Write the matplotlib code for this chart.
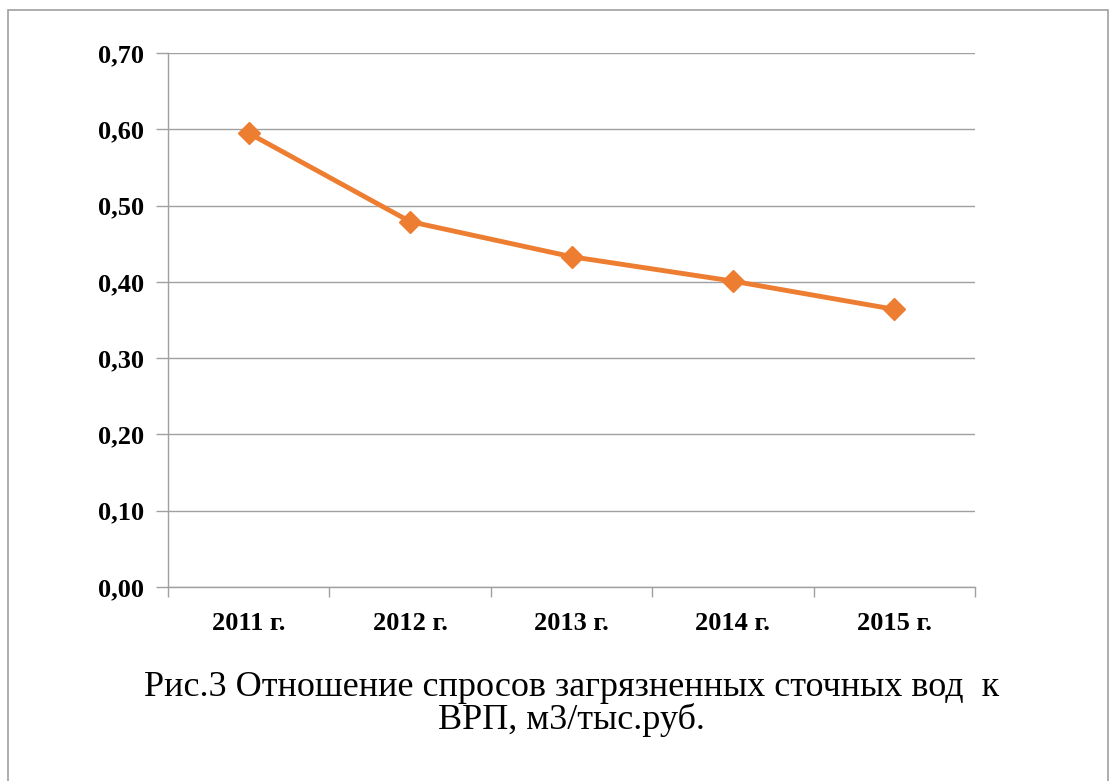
import matplotlib.pyplot as plt
from matplotlib.patches import Rectangle
from matplotlib.ticker import FixedLocator, FuncFormatter

years = ['2011 г.', '2012 г.', '2013 г.', '2014 г.', '2015 г.']
values = [0.595, 0.479, 0.433, 0.401, 0.364]
yticks = [0.0, 0.1, 0.2, 0.3, 0.4, 0.5, 0.6, 0.7]

plt.rcParams['font.family'] = ['Liberation Serif', 'DejaVu Serif']

fig = plt.figure(figsize=(11.17, 7.81), dpi=100)
ax = fig.add_axes([0.1504, 0.2484, 0.7225, 0.6837])

grey = '#a0a0a0'
x = list(range(len(years)))
ax.plot(x, values, color='#ed7d31', linewidth=3.5, marker='D', markersize=11,
        zorder=3)

ax.set_xlim(-0.5, len(years) - 0.5)
ax.set_ylim(0, 0.7)
ax.set_yticks(yticks)
ax.yaxis.set_major_formatter(FuncFormatter(lambda v, p: f'{v:.2f}'.replace('.', ',')))
ax.grid(axis='y', color=grey, linewidth=1)
ax.set_axisbelow(True)

# category labels between boundary ticks
ax.xaxis.set_major_locator(FixedLocator([i - 0.5 for i in range(len(years) + 1)]))
ax.xaxis.set_major_formatter(FuncFormatter(lambda v, p: ''))
ax.xaxis.set_minor_locator(FixedLocator(x))
ax.set_xticklabels(years, minor=True)
ax.tick_params(axis='x', which='major', length=7, color=grey, width=1)
ax.tick_params(axis='x', which='minor', length=0, pad=18, labelsize=19)
ax.tick_params(axis='y', length=9, color=grey, width=1, pad=8, labelsize=19)
for lab in ax.get_xticklabels(minor=True) + ax.get_yticklabels():
    lab.set_fontweight('bold')

for s in ['top', 'right']:
    ax.spines[s].set_visible(False)
for s in ['left', 'bottom']:
    ax.spines[s].set_color(grey)
    ax.spines[s].set_linewidth(1)

fig.text(0.512, 0.099, 'Рис.3 Отношение спросов загрязненных сточных вод  к\nВРП, м3/тыс.руб.',
         ha='center', va='center', fontsize=26, linespacing=0.95)

fig.patches.append(Rectangle((8 / 1117, -0.01), 1100 / 1117, 1 - 10 / 781 + 0.01,
                             transform=fig.transFigure, fill=False,
                             edgecolor='#a0a0a0', linewidth=1.2))

fig.savefig('out.png', dpi=100)
